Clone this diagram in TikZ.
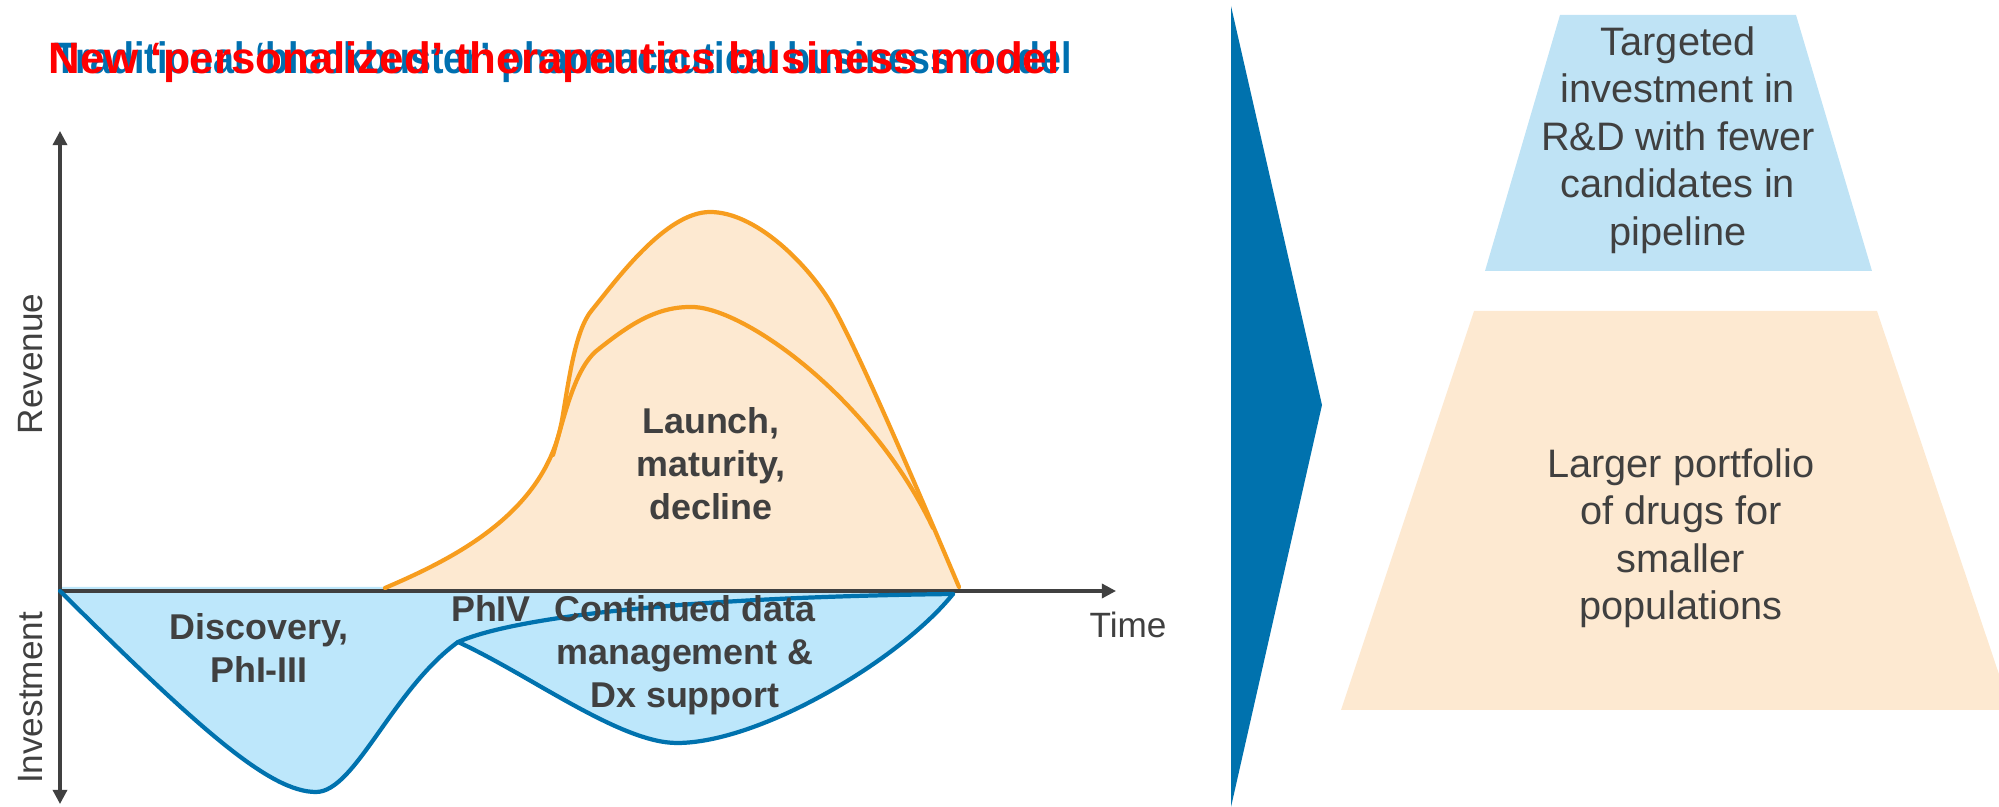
\documentclass[tikz,border=0pt]{standalone}
\usepackage{fontspec}
\setmainfont{Liberation Sans}
\usetikzlibrary{arrows.meta}

\definecolor{inkgray}{HTML}{404040}
\definecolor{deepblue}{HTML}{0072AE}
\definecolor{paleblue}{HTML}{BFE3F5}
\definecolor{chartblue}{HTML}{BDE7FB}
\definecolor{paleorange}{HTML}{FDE9D1}
\definecolor{lineorange}{HTML}{F79D1E}
\definecolor{titlered}{HTML}{FF0000}
\definecolor{titleblue}{HTML}{0070B0}

\tikzset{
  axisline/.style={draw=inkgray, line width=0.9pt, -{Triangle[length=4pt,width=4pt]}},
  bluestroke/.style={draw=deepblue, line width=1.2pt, line join=round, line cap=round},
  orangestroke/.style={draw=lineorange, line width=1.2pt, line join=round, line cap=round},
  axislabel/.style={text=inkgray, font=\fontsize{10}{12}\selectfont, inner sep=0pt},
  phaselabel/.style={text=inkgray, font=\fontsize{10.2}{12.2}\selectfont\bfseries, align=center, inner sep=0pt},
  sidelabel/.style={text=inkgray, font=\fontsize{11.3}{13.5}\selectfont, align=center, inner sep=0pt},
  titletext/.style={anchor=base west, inner sep=0pt, font=\fontsize{12.5}{15}\selectfont\bfseries}
}

% outline of the investment dips (discovery dip, then post-launch support dip)
\newcommand{\investoutline}{(60,591) .. controls (200,730) and (270,792) .. (316,792)
  .. controls (355,792) and (392,690) .. (458,642)
  .. controls (530,675) and (620,743) .. (677,743)
  .. controls (760,743) and (900,660) .. (953,594)}
% outline of the blockbuster revenue curve
\newcommand{\revenueoutline}{(385,588) .. controls (450,560) and (545,515) .. (562,420)
  .. controls (569,380) and (575,330) .. (592,310)
  .. controls (615,282) and (665,212) .. (710,212)
  .. controls (755,212) and (805,262) .. (829,300)
  .. controls (853,338) and (920,495) .. (959,587)}

\begin{document}
\begin{tikzpicture}[x=0.01cm, y=-0.01cm]
\useasboundingbox (0,0) rectangle (1999,807);

% overlaid headings
\node[titletext, text=titleblue] (oldmodel) at (54,74)
  {\resizebox{10.17cm}{\height}{Traditional ‘blockbuster’ pharmaceutical business model}};
\node[titletext, text=titlered] (newmodel) at (48,74)
  {\resizebox{10.10cm}{\height}{New ‘personalized’ therapeutics business model}};

% axis anchor points
\coordinate (origin) at (60,591);
\coordinate (ytop) at (60,131);
\coordinate (ybot) at (60,804);
\coordinate (xend) at (1116,591);

% investment area (below the time axis)
\fill[chartblue] (60,587) -- \investoutline -- (953,587) -- cycle;

% revenue area (above the time axis)
\fill[paleorange] (385,591) -- \revenueoutline -- (959,591) -- cycle;

% axes
\draw[axisline] (origin) -- (xend);
\draw[axisline, {Triangle[length=4pt,width=4pt]}-{Triangle[length=4pt,width=4pt]}] (ybot) -- (ytop);

% revenue curves: blockbuster envelope and the smaller personalised curve
\draw[orangestroke] \revenueoutline;
\draw[orangestroke] (553,455) .. controls (566,410) and (576,365) .. (600,348)
  .. controls (628,326) and (655,307) .. (690,307)
  .. controls (740,305) and (870,395) .. (933,528);

% investment curves
\draw[bluestroke] \investoutline;
\draw[bluestroke] (458,642) .. controls (520,615) and (700,597) .. (953,594);

% axis labels
\node[axislabel, rotate=90] (revenue) at (31,364) {Revenue};
\node[axislabel, rotate=90] (investment) at (31,698) {Investment};
\node[axislabel] (time) at (1128,625) {Time};

% phase labels
\node[phaselabel] (launch) at (711,464) {Launch,\\maturity,\\decline};
\node[phaselabel] (discovery) at (259,648) {Discovery,\\PhI-III};
\node[phaselabel] (phiv) at (491,609) {PhIV};
\node[phaselabel] (continued) at (685,655) {Continued data\\management \&\\Dx support};

% transition chevron
\fill[deepblue] (1231,6) -- (1322,405) -- (1231,807) -- cycle;

% right-hand tiers
\fill[paleblue] (1560,15) -- (1796,15) -- (1872,271) -- (1485,271) -- cycle;
\fill[paleorange] (1474,311) -- (1877,311) -- (2011,710) -- (1341,710) -- cycle;
\node[sidelabel] (targeted) at (1678,140) {Targeted\\investment in\\R\&D with fewer\\candidates in\\pipeline};
\node[sidelabel] (portfolio) at (1681,538) {Larger portfolio\\of drugs for\\smaller\\populations};
\end{tikzpicture}
\end{document}
